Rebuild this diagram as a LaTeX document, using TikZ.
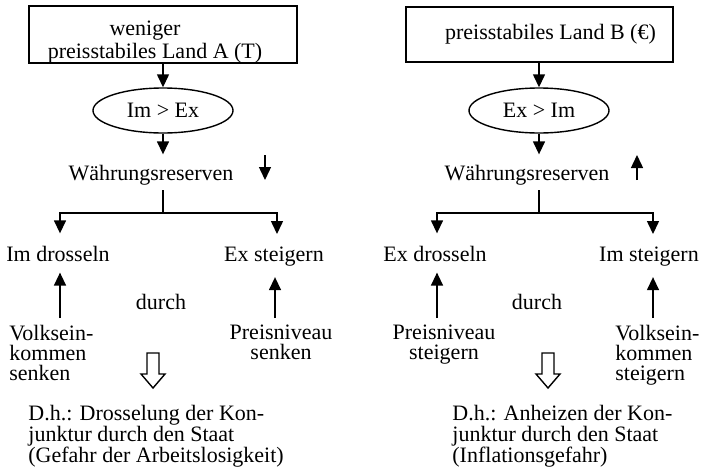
\documentclass[tikz,border=0pt]{standalone}
\usepackage{fontspec}
\setmainfont{Liberation Serif}
\usetikzlibrary{arrows.meta,shapes.geometric}
\begin{document}
\begin{tikzpicture}[x=0.5pt,y=-0.5pt,
  lbl/.style={inner sep=0pt, font=\fontsize{11}{13}\selectfont},
  stack/.style={lbl, font=\fontsize{11}{10}\selectfont},
  note/.style={lbl, anchor=north west, align=left, font=\fontsize{11}{10.5}\selectfont},
  country/.style={draw, line width=0.7pt, minimum width=134pt, minimum height=27.5pt,
    inner sep=0pt, align=center, font=\fontsize{11}{11.5}\selectfont},
  balance/.style={draw, ellipse, line width=0.7pt, minimum width=70pt, minimum height=22.5pt,
    inner sep=0pt, font=\fontsize{11}{13}\selectfont},
  flow/.style={-{Triangle[length=6.5pt,width=6pt]}, line width=0.7pt},
  link/.style={line width=0.7pt},
  hollow/.style={draw, line width=0.7pt, fill=white, line join=miter}]
\useasboundingbox (0,0) rectangle (701,466);

% ---------- Land A ----------
\node[country] (boxA) at (163,34.5) {\rule{0pt}{14.5pt}weniger\kern18pt\\preisstabiles Land A (T)\kern8pt};
\node[balance] (ellA) at (163,110.5) {Im > Ex};
\node[lbl, anchor=base] (resA) at (151,180) {Währungsreserven};
\coordinate (dnA0) at (265,155);
\coordinate (dnA1) at (265,180);
\coordinate (forkA) at (163,213);
\node[lbl, anchor=base] (imA) at (58,261) {Im drosseln};
\node[lbl, anchor=base] (exA) at (274,261) {Ex steigern};
\node[lbl, anchor=base] (durchA) at (161,309) {durch};
\node[stack, anchor=north west, align=left] (volkA) at (9,325) {Volksein-\\kommen\\senken};
\node[stack, anchor=north, align=center] (preisA) at (281,325) {Preisniveau\\senken};
\node[note] (resultA) at (28,405) {D.h.: Drosselung der Kon-\\junktur durch den Staat\\(Gefahr der Arbeitslosigkeit)};

\draw[flow] (boxA.south) -- (ellA.north);
\draw[flow, shorten >=5pt] (ellA.south) -- (ellA.south |- resA.north);
\draw[flow] (dnA0) -- (dnA1);
\draw[link, shorten <=2.5pt] (resA.south -| ellA.south) -- (forkA);
\draw[flow, shorten >=6pt] (forkA) -| ([xshift=1pt]imA.north);
\draw[flow, shorten >=6pt] (forkA) -| ([xshift=1.5pt]exA.north);
\draw[flow, shorten <=3.5pt, shorten >=5.5pt] ([xshift=1pt]imA.south |- volkA.north) -- ([xshift=1pt]imA.south);
\draw[flow, shorten <=3.5pt, shorten >=5.5pt] ([xshift=0.5pt]exA.south |- preisA.north) -- ([xshift=0.5pt]exA.south);
\draw[hollow] (147,353) -- (159,353) -- (159,374) -- (165,374) -- (153,388)
  -- (141,374) -- (147,374) -- cycle;

% ---------- Land B ----------
\node[country, minimum width=133.5pt] (boxB) at (539.5,34.5) {\kern11pt preisstabiles Land B (€)};
\node[balance] (ellB) at (539,110.5) {Ex > Im};
\node[lbl, anchor=base] (resB) at (527,180) {Währungsreserven};
\coordinate (upB0) at (637,180);
\coordinate (upB1) at (637,155);
\coordinate (forkB) at (539,213);
\node[lbl, anchor=base] (exB) at (435,261) {Ex drosseln};
\node[lbl, anchor=base] (imB) at (649,261) {Im steigern};
\node[lbl, anchor=base] (durchB) at (537,309) {durch};
\node[stack, anchor=north, align=center] (preisB) at (444,325) {Preisniveau\\steigern};
\node[stack, anchor=north west, align=left] (volkB) at (615,325) {Volksein-\\kommen\\steigern};
\node[note] (resultB) at (452,405) {D.h.: Anheizen der Kon-\\junktur durch den Staat\\(Inflationsgefahr)};

\draw[flow] (boxB.south -| ellB.north) -- (ellB.north);
\draw[flow, shorten >=5pt] (ellB.south) -- (ellB.south |- resB.north);
\draw[flow] (upB0) -- (upB1);
\draw[link, shorten <=2.5pt] (resB.south -| ellB.south) -- (forkB);
\draw[flow, shorten >=6pt] (forkB) -| ([xshift=1pt]exB.north);
\draw[flow, shorten >=6pt] (forkB) -| ([xshift=2pt]imB.north);
\draw[flow, shorten <=3.5pt, shorten >=5.5pt] ([xshift=1pt]exB.south |- preisB.north) -- ([xshift=1pt]exB.south);
\draw[flow, shorten <=3.5pt, shorten >=5.5pt] ([xshift=2pt]imB.south |- volkB.north) -- ([xshift=2pt]imB.south);
\draw[hollow] (542,353) -- (554,353) -- (554,374) -- (560,374) -- (548,388)
  -- (536,374) -- (542,374) -- cycle;
\end{tikzpicture}
\end{document}
